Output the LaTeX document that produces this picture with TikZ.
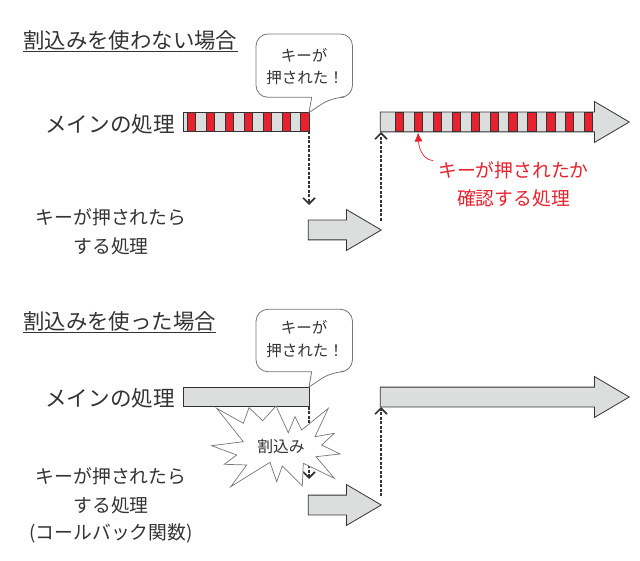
\documentclass[tikz,border=0pt]{standalone}
\usepackage{fontspec}
\setmainfont{Noto Sans CJK JP}
\usetikzlibrary{arrows.meta,shapes.arrows}
\definecolor{barfill}{HTML}{DCDDDD}
\definecolor{barred}{HTML}{E8212E}
\definecolor{inkgray}{HTML}{333333}
\definecolor{edgegray}{HTML}{777777}
\tikzset{
  titletext/.style={text=inkgray,inner sep=0pt,anchor=west,font=\fontsize{21.4}{24}\selectfont},
  maintext/.style={text=inkgray,inner sep=0pt,font=\fontsize{21.6}{24}\selectfont},
  bodytext/.style={text=inkgray,inner sep=0pt,font=\fontsize{18.8}{22}\selectfont},
  calltext/.style={text=inkgray,inner sep=0pt,font=\fontsize{15.5}{18}\selectfont},
  redtext/.style={text=barred,inner sep=0pt,font=\fontsize{18.8}{22}\selectfont},
  barbox/.style={draw=inkgray,fill=barfill,line width=0.8pt,inner sep=0pt,minimum height=19pt,anchor=west},
  bigarrow/.style={single arrow,draw=inkgray,fill=barfill,line width=0.8pt,inner xsep=0pt,inner ysep=9.5pt,
    single arrow head extend=10.5pt,single arrow tip angle=61,anchor=tip},
  redbar/.style={draw=inkgray,fill=barred,line width=0.6pt},
  dashline/.style={draw=inkgray,line width=1.6pt,dash pattern=on 3pt off 1.5pt,-{Straight Barb[length=6pt,width=12pt]}},
  callbox/.style={draw=edgegray,fill=white,line width=0.8pt},
}
\begin{document}
\begin{tikzpicture}[x=1pt,y=-1pt]
\useasboundingbox (0,0) rectangle (640,561);

% upper half
\node[titletext] (title1) at (23,40) {割込みを使わない場合};
\draw[draw=inkgray,line width=0.8pt] (23,51) -- (238,51);

\node[maintext] (main1) at (110,124) {メインの処理};
\node[barbox,minimum width=126pt] (bar1) at (183,122) {};
\foreach \x in {187.3,206.2,...,302} {
  \path[redbar] (\x,112.5) rectangle ++(8.3,19);
}
\node[bigarrow,minimum height=249pt] (long1) at (630,122) {};
\foreach \x in {395.3,414.2,...,586} {
  \path[redbar] (\x,112.5) rectangle ++(8.3,19);
}
\node[bigarrow,minimum height=73pt] (short1) at (382,230) {};

\path[callbox,rounded corners=12pt] (256,34) -- (352.5,34) -- (352.5,97.3) -- (332,97.3) [sharp corners] -- (309,112.5) -- (311.7,97.3) [rounded corners=12pt] -- (256,97.3) -- cycle;
\node[calltext] (call1a) at (304,55) {キーが};
\node[calltext] (call1b) at (305,78) {押された！};

\coordinate (down1s) at (309,131.5);
\coordinate (down1e) at (309,205);
\coordinate (up1s) at (381,221);
\coordinate (up1e) at (381,132);
\path[dashline] (down1s) -- (down1e);
\path[dashline] (up1s) -- (up1e);

\node[bodytext] (key1) at (111,217) {キーが押されたら};
\node[bodytext] (do1) at (111,246) {する処理};

\node[redtext] (check1) at (513.5,170) {キーが押されたか};
\node[redtext] (check2) at (513.5,198) {確認する処理};
\coordinate (redfrom) at (433,160.5);
\coordinate (redto) at (418,132.5);
\path[draw=barred,line width=0.7pt,-{Latex[length=9pt,width=8pt]}] (redfrom) .. controls (424,160) and (419,150) .. (redto);

% lower half
\node[titletext] (title2) at (23,321) {割込みを使った場合};
\draw[draw=inkgray,line width=0.8pt] (23,332) -- (216,332);

\node[maintext] (main2) at (110,398) {メインの処理};
\node[barbox,minimum width=126pt] (bar2) at (183,397) {};
\node[bigarrow,minimum height=249pt] (long2) at (630,397) {};
\node[bigarrow,minimum height=73pt] (short2) at (382,505) {};

\path[callbox,rounded corners=12pt] (256,309.3) -- (352.5,309.3) -- (352.5,371.7) -- (332,371.7) [sharp corners] -- (309,387) -- (311.7,371.7) [rounded corners=12pt] -- (256,371.7) -- cycle;
\node[calltext] (call2a) at (304,327) {キーが};
\node[calltext] (call2b) at (305,351) {押された！};

\coordinate (down2s) at (309,406.5);
\coordinate (down2e) at (309,479);
\coordinate (up2s) at (381,496);
\coordinate (up2e) at (381,407);
\path[dashline] (down2s) -- (down2e);
\path[dashline] (up2s) -- (up2e);

\path[draw=edgegray,fill=white,line width=0.7pt] (216.7,408.3) -- (243.3,423.3) -- (249,407.7) -- (262.7,420.7) -- (276,406) -- (288.3,432.7) -- (295,416.7) -- (301.7,430) -- (328.3,408.3) -- (315,436.7) -- (334.3,433.3) -- (321.7,445) -- (340,454) -- (316,456.7) -- (334.3,478.3) -- (303.3,463.3) -- (302.3,486) -- (282.3,466) -- (276.7,481.7) -- (270,462.3) -- (230.7,486.7) -- (246.7,465) -- (224.3,464.3) -- (236.7,455) -- (211.7,445.7) -- (243.3,441.7) -- cycle;
\node[calltext,font=\fontsize{15.8}{18}\selectfont] (burst) at (281,446) {割込み};

\node[bodytext] (key2) at (111,476) {キーが押されたら};
\node[bodytext] (do2) at (111,505) {する処理};
\node[bodytext] (cb2) at (111,533) {(コールバック関数)};
\end{tikzpicture}
\end{document}
